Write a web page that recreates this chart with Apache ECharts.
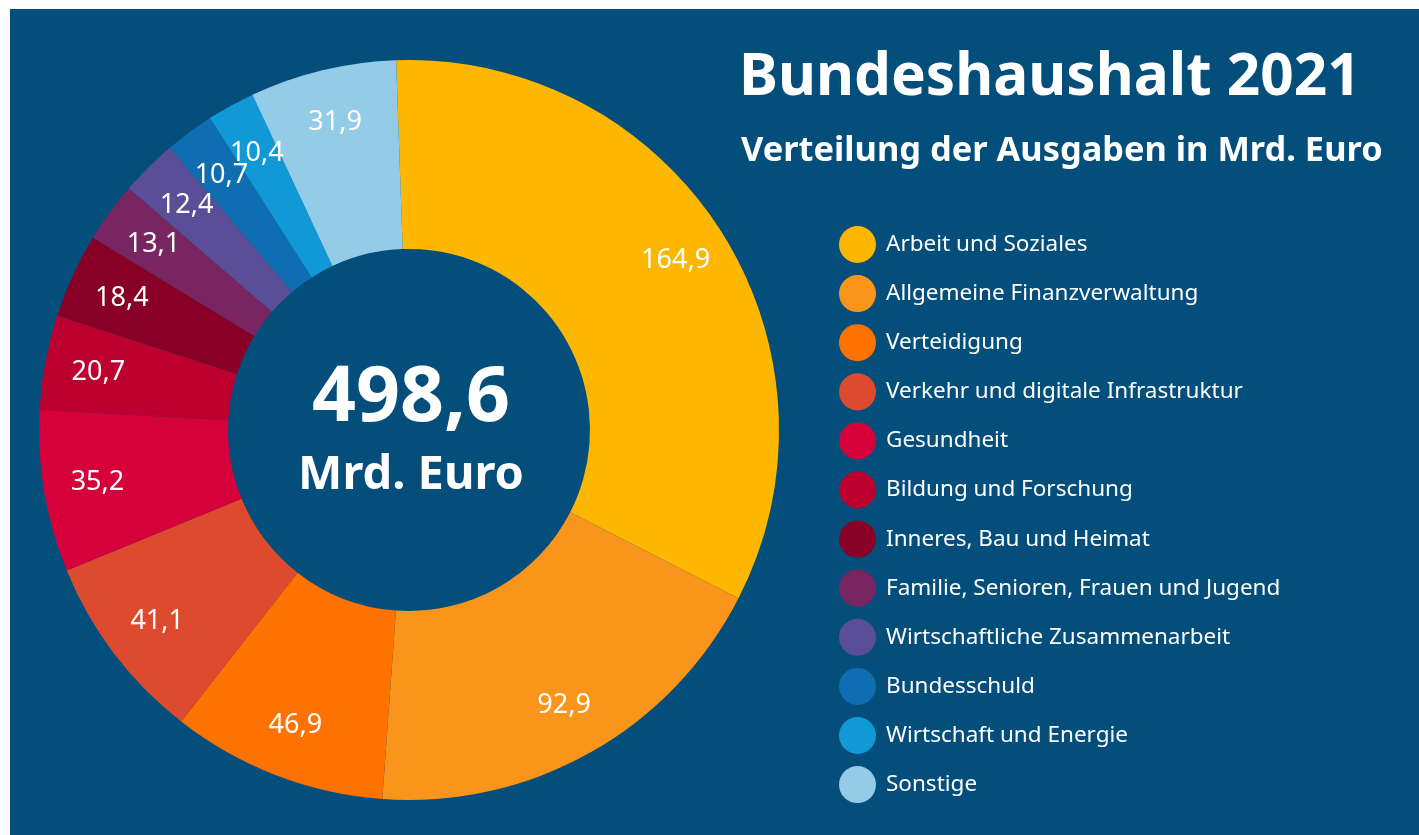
<!DOCTYPE html>
<html>
<head>
<meta charset="utf-8">
<script src="https://cdn.jsdelivr.net/npm/echarts@6/dist/echarts.min.js"></script>
<style>
  html, body { margin: 0; padding: 0; background: #fff; }
  #chart { position: absolute; left: 10px; top: 9px; width: 1409px; height: 826px; }
</style>
</head>
<body>
<div id="chart"></div>
<script>
// Ausgaben je Ressort, Mrd. Euro
var categories = [
  "Arbeit und Soziales",
  "Allgemeine Finanzverwaltung",
  "Verteidigung",
  "Verkehr und digitale Infrastruktur",
  "Gesundheit",
  "Bildung und Forschung",
  "Inneres, Bau und Heimat",
  "Familie, Senioren, Frauen und Jugend",
  "Wirtschaftliche Zusammenarbeit",
  "Bundesschuld",
  "Wirtschaft und Energie",
  "Sonstige"
];
var values = [164.9, 92.9, 46.9, 41.1, 35.2, 20.7, 18.4, 13.1, 12.4, 10.7, 10.4, 31.9];
var colors = [
  "#FDB700", "#FA951C", "#FE7200", "#DE4A2D", "#D6003A", "#BD002F",
  "#880026", "#792561", "#5A4E99", "#0F6EB1", "#1198D6", "#94CBE6"
];
var totalText = "498,6";

var pieData = categories.map(function (name, i) {
  return { name: name, value: values[i] };
});

function deNum(v) {
  return v.toFixed(1).replace(".", ",");
}

var myChart = echarts.init(document.getElementById("chart"));
myChart.setOption({
  backgroundColor: "#034E7B",
  color: colors,
  animation: false,
  title: [
    {
      text: "Bundeshaushalt 2021",
      left: 724,
      top: 35,
      textStyle: { color: "#fff", fontFamily: "Noto Sans", fontWeight: "bold", fontSize: 58.5 }
    },
    {
      text: "Verteilung der Ausgaben in Mrd. Euro",
      left: 726,
      top: 120,
      textStyle: { color: "#fff", fontFamily: "Noto Sans", fontWeight: "bold", fontSize: 34.4 }
    }
  ],
  legend: {
    orient: "vertical",
    left: 824,
    top: 212,
    icon: "circle",
    itemWidth: 37,
    itemHeight: 37,
    itemGap: 12.1,
    selectedMode: false,
    data: categories,
    textStyle: { color: "#fff", fontFamily: "Noto Sans", fontSize: 22.5, padding: [0, 0, 0, 5] }
  },
  graphic: [
    {
      type: "text",
      style: {
        text: totalText,
        x: 401, y: 390,
        align: "center", verticalAlign: "middle",
        fill: "#fff",
        font: "bold 77px 'Noto Sans'"
      }
    },
    {
      type: "text",
      style: {
        text: "Mrd. Euro",
        x: 401, y: 467,
        align: "center", verticalAlign: "middle",
        fill: "#fff",
        font: "bold 47px 'Noto Sans'"
      }
    }
  ],
  series: [
    {
      name: "Ausgaben",
      type: "pie",
      center: [399, 421],
      radius: [181, 370],
      startAngle: 92,
      clockwise: true,
      silent: true,
      label: { show: false },
      labelLine: { show: false },
      itemStyle: { borderWidth: 0 },
      data: pieData
    },
    {
      name: "Beschriftung",
      type: "pie",
      center: [399, 421],
      radius: [248, 378],
      startAngle: 92,
      clockwise: true,
      silent: true,
      avoidLabelOverlap: false,
      labelLayout: { hideOverlap: false },
      itemStyle: { color: "rgba(0,0,0,0)", borderWidth: 0 },
      label: {
        show: true,
        position: "inside",
        color: "#fff",
        fontFamily: "Noto Sans",
        fontSize: 27,
        formatter: function (p) { return deNum(p.value); }
      },
      labelLine: { show: false },
      data: pieData
    }
  ]
});
</script>
</body>
</html>
